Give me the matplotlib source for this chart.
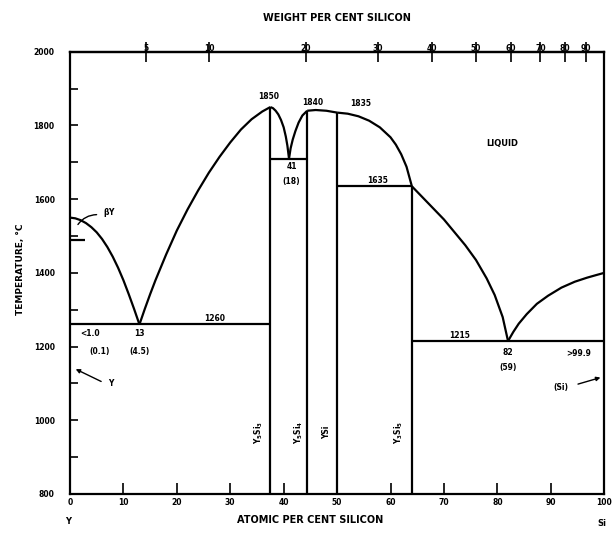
import numpy as np
import matplotlib
matplotlib.use("Agg")
import matplotlib.pyplot as plt

plt.rcParams["font.family"] = ["DejaVu Sans"]
plt.rcParams["font.weight"] = "bold"
plt.rcParams["mathtext.default"] = "bf"

# Atomic masses for the weight/atomic per cent scale
M_Y = 88.906
M_SI = 28.086

# Liquidus branches (atomic % Si, deg C)
liq_y_x = [0, 1, 2, 3, 4, 5, 6, 7, 8, 9, 10, 11, 12, 13]
liq_y_t = [1550, 1548, 1543, 1535, 1524, 1510, 1492, 1470, 1444, 1414, 1380, 1342, 1302, 1260]

liq_53a_x = [13, 14, 15, 16, 17, 18, 20, 22, 24, 26, 28, 30, 32, 34, 36, 37.5]
liq_53a_t = [1260, 1302, 1342, 1380, 1415, 1450, 1515, 1572, 1624, 1672, 1715, 1754,
             1789, 1817, 1838, 1850]

liq_53b_x = [37.5, 38, 38.5, 39, 39.5, 40, 40.4, 40.7, 41]
liq_53b_t = [1850, 1847, 1840, 1830, 1815, 1795, 1770, 1745, 1710]

liq_54_x = [41, 41.3, 41.7, 42.2, 42.8, 43.5, 44.4]
liq_54_t = [1710, 1738, 1762, 1785, 1808, 1827, 1840]

liq_top_x = [44.4, 46, 48, 50]
liq_top_t = [1840, 1842, 1840, 1835]

liq_11_x = [50, 52, 54, 56, 58, 60, 61, 62, 63, 64]
liq_11_t = [1835, 1832, 1825, 1813, 1795, 1768, 1748, 1722, 1688, 1635]

liq_35_x = [64, 66, 68, 70, 72, 74, 76, 78, 79.5, 81, 82]
liq_35_t = [1635, 1605, 1575, 1545, 1510, 1475, 1435, 1385, 1340, 1280, 1215]

liq_si_x = [82, 83, 84, 85.5, 87.4, 89.5, 92, 94.5, 96.8, 98.5, 100]
liq_si_t = [1215, 1240, 1262, 1288, 1316, 1338, 1360, 1376, 1387, 1394, 1400]

# Compounds: composition (at.% Si) and top of the vertical line
compounds = [r"Y$_5$Si$_3$", r"Y$_5$Si$_4$", "YSi", r"Y$_3$Si$_5$"]
compound_x = [37.5, 44.4, 50, 64]
compound_top = [1850, 1840, 1835, 1635]

# Invariant horizontals: (x start, x end, temperature)
inv_x0 = [0, 37.5, 50, 64, 0]
inv_x1 = [37.5, 44.4, 64, 100, 2.8]
inv_t = [1260, 1710, 1635, 1215, 1490]

wt_ticks = [5, 10, 20, 30, 40, 50, 60, 70, 80, 90]


def at_to_wt(a):
    a = np.asarray(a, dtype=float)
    return 100 * a * M_SI / (a * M_SI + (100 - a) * M_Y)


def wt_to_at(w):
    w = np.asarray(w, dtype=float)
    return 100 * (w / M_SI) / (w / M_SI + (100 - w) / M_Y)


fig = plt.figure(figsize=(6.14, 5.34), dpi=100)
ax = fig.add_axes([0.114, 0.075, 0.870, 0.828])
ax.set_xlim(0, 100)
ax.set_ylim(800, 2000)

lw = 1.6
kw = dict(color="black", lw=lw, solid_capstyle="butt", solid_joinstyle="round")
for xs, ts in [(liq_y_x, liq_y_t), (liq_53a_x, liq_53a_t), (liq_53b_x, liq_53b_t),
               (liq_54_x, liq_54_t), (liq_top_x, liq_top_t), (liq_11_x, liq_11_t),
               (liq_35_x, liq_35_t), (liq_si_x, liq_si_t)]:
    ax.plot(xs, ts, **kw)

for cx, top in zip(compound_x, compound_top):
    ax.plot([cx, cx], [800, top], **kw)

for x0, x1, t in zip(inv_x0, inv_x1, inv_t):
    ax.plot([x0, x1], [t, t], **kw)

for s in ax.spines.values():
    s.set_linewidth(lw)

# Bottom axis: atomic per cent
ax.set_xticks(np.arange(0, 101, 10))
ax.tick_params(axis="x", direction="in", length=8, width=1.2, pad=3,
               labelsize=5.5, top=False)
ax.set_yticks(np.arange(800, 2001, 200))
ax.set_yticks(np.arange(900, 2000, 200), minor=True)
ax.tick_params(axis="y", which="both", direction="in", length=6, width=1.2,
               pad=11, labelsize=5.5, right=False)

# Top axis: weight per cent
sec = ax.secondary_xaxis("top", functions=(at_to_wt, wt_to_at))
sec.set_xticks(wt_ticks)
sec.tick_params(direction="inout", length=14, width=1.2, pad=-8, labelsize=5.5)
sec.spines["top"].set_linewidth(lw)

tk = dict(fontsize=5.5, fontweight="bold", ha="center", va="center")
ax.text(37.2, 1880, "1850", **tk)
ax.text(45.5, 1862, "1840", **tk)
ax.text(54.5, 1860, "1835", **tk)
ax.text(41.5, 1690, "41", **tk)
ax.text(41.5, 1648, "(18)", **tk)
ax.text(57.5, 1652, "1635", **tk)
ax.text(27.1, 1275, "1260", **tk)
ax.text(3.7, 1235, "<1.0", **tk)
ax.text(5.6, 1186, "(0.1)", **tk)
ax.text(13, 1235, "13", **tk)
ax.text(13, 1186, "(4.5)", **tk)
ax.text(72.9, 1230, "1215", **tk)
ax.text(82, 1184, "82", **tk)
ax.text(82, 1144, "(59)", **tk)
ax.text(95.3, 1181, ">99.9", **tk)
ax.text(81, 1750, "LIQUID", fontsize=6, fontweight="bold", ha="center", va="center")

ax.text(7.3, 1565, r"$\beta$Y", **tk)
ax.annotate("", xy=(1.2, 1525), xytext=(5.5, 1558),
            arrowprops=dict(arrowstyle="-", color="black", lw=1.0,
                            connectionstyle="arc3,rad=0.3"))
ax.text(7.6, 1100, "Y", **tk)
ax.annotate("", xy=(0.6, 1142), xytext=(6.3, 1102),
            arrowprops=dict(arrowstyle="-|>", color="black", lw=1.0,
                            mutation_scale=6))
ax.text(91.9, 1090, "(Si)", **tk)
ax.annotate("", xy=(99.8, 1118), xytext=(94.6, 1096),
            arrowprops=dict(arrowstyle="-|>", color="black", lw=1.0,
                            mutation_scale=6))

for name, lx in zip(compounds, [35.4, 42.9, 48.1, 61.6]):
    ax.text(lx, 967, name, rotation=90, **tk)

fig.text(0.549, 0.966, "WEIGHT PER CENT SILICON", fontsize=7, fontweight="bold",
         ha="center", va="center")
fig.text(0.505, 0.026, "ATOMIC PER CENT SILICON", fontsize=7, fontweight="bold",
         ha="center", va="center")
fig.text(0.111, 0.024, "Y", fontsize=6, fontweight="bold", ha="center", va="center")
fig.text(0.981, 0.020, "Si", fontsize=6, fontweight="bold", ha="center", va="center")
fig.text(0.033, 0.495, "TEMPERATURE, °C", fontsize=6.5, fontweight="bold",
         rotation=90, ha="center", va="center")

fig.savefig("out.png", dpi=100)
